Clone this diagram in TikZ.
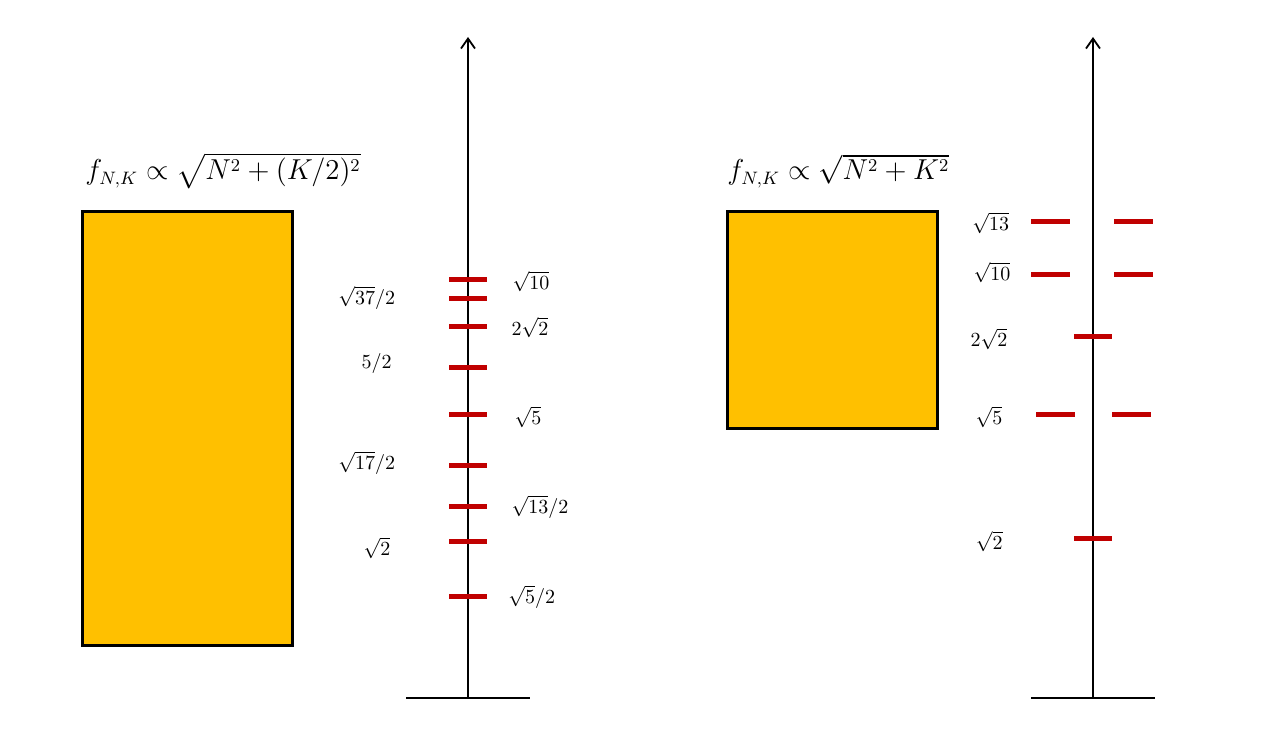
\documentclass[tikz,border=0pt]{standalone}
\usepackage{amsmath}
\usetikzlibrary{arrows.meta}
\definecolor{gold}{RGB}{255,192,0}
\definecolor{level}{RGB}{192,0,0}
\begin{document}
\begin{tikzpicture}[x=0.5pt, y=-0.5pt,
    box/.style={draw, line width=1.5pt, fill=gold},
    lvl/.style={draw=level, line width=2.5pt},
    floor/.style={line width=0.9pt},
    axis/.style={-{Straight Barb[length=5pt,width=7pt]}, line width=0.9pt},
    lab/.style={inner sep=0pt},
    formula/.style={anchor=base west, inner sep=0pt, font=\fontsize{13.3}{16}\selectfont}
]
\useasboundingbox (0,0) rectangle (1280,753);

% left panel: N^2 + (K/2)^2
\node[formula] (fA) at (85,180) {$f_{N,K}\propto\sqrt{N^2+(K/2)^2}$};
\draw[box] (82,212) rectangle (292,645);
\coordinate (baseA) at (468,698);
\coordinate (topA) at (468,37);
\coordinate (floorAl) at (406,698);
\coordinate (floorAr) at (530,698);
\draw[floor] (floorAl) -- (floorAr);
\draw[axis] (baseA) -- (topA);
\foreach \y in {280,299,327,368,415,466,507,541,596}
  \draw[lvl] (449,\y) -- (487,\y);
\node[lab] (a10)  at (531,281.7) {$\sqrt{10}$};
\node[lab] (a37)  at (366.7,297.7) {$\sqrt{37}/2$};
\node[lab] (a8)   at (530,327.7) {$2\sqrt{2}$};
\node[lab] (a25)  at (376.7,364) {$5/2$};
\node[lab] (a5)   at (528,417) {$\sqrt{5}$};
\node[lab] (a17)  at (366.7,463) {$\sqrt{17}/2$};
\node[lab] (a13)  at (540,507) {$\sqrt{13}/2$};
\node[lab] (a2)   at (377,548) {$\sqrt{2}$};
\node[lab] (a5h)  at (531.7,597) {$\sqrt{5}/2$};

% right panel: N^2 + K^2
\node[formula] (fB) at (727,180) {$f_{N,K}\propto\sqrt{N^2+K^2}$};
\draw[box] (727,212) rectangle (937,429);
\coordinate (baseB) at (1093,698);
\coordinate (topB) at (1093,37);
\coordinate (floorBl) at (1031,698);
\coordinate (floorBr) at (1155,698);
\draw[floor] (floorBl) -- (floorBr);
\draw[axis] (baseB) -- (topB);
\foreach \y in {222,275} {
  \draw[lvl] (1031,\y) -- (1070,\y);
  \draw[lvl] (1114,\y) -- (1153,\y);
}
\draw[lvl] (1036,415) -- (1075,415);
\draw[lvl] (1112,415) -- (1151,415);
\foreach \y in {337,538}
  \draw[lvl] (1074,\y) -- (1112,\y);
\node[lab] (b13) at (990.7,223) {$\sqrt{13}$};
\node[lab] (b10) at (992,272.7) {$\sqrt{10}$};
\node[lab] (b8)  at (989,339) {$2\sqrt{2}$};
\node[lab] (b5)  at (989,417) {$\sqrt{5}$};
\node[lab] (b2)  at (989.3,541.7) {$\sqrt{2}$};
\end{tikzpicture}
\end{document}
